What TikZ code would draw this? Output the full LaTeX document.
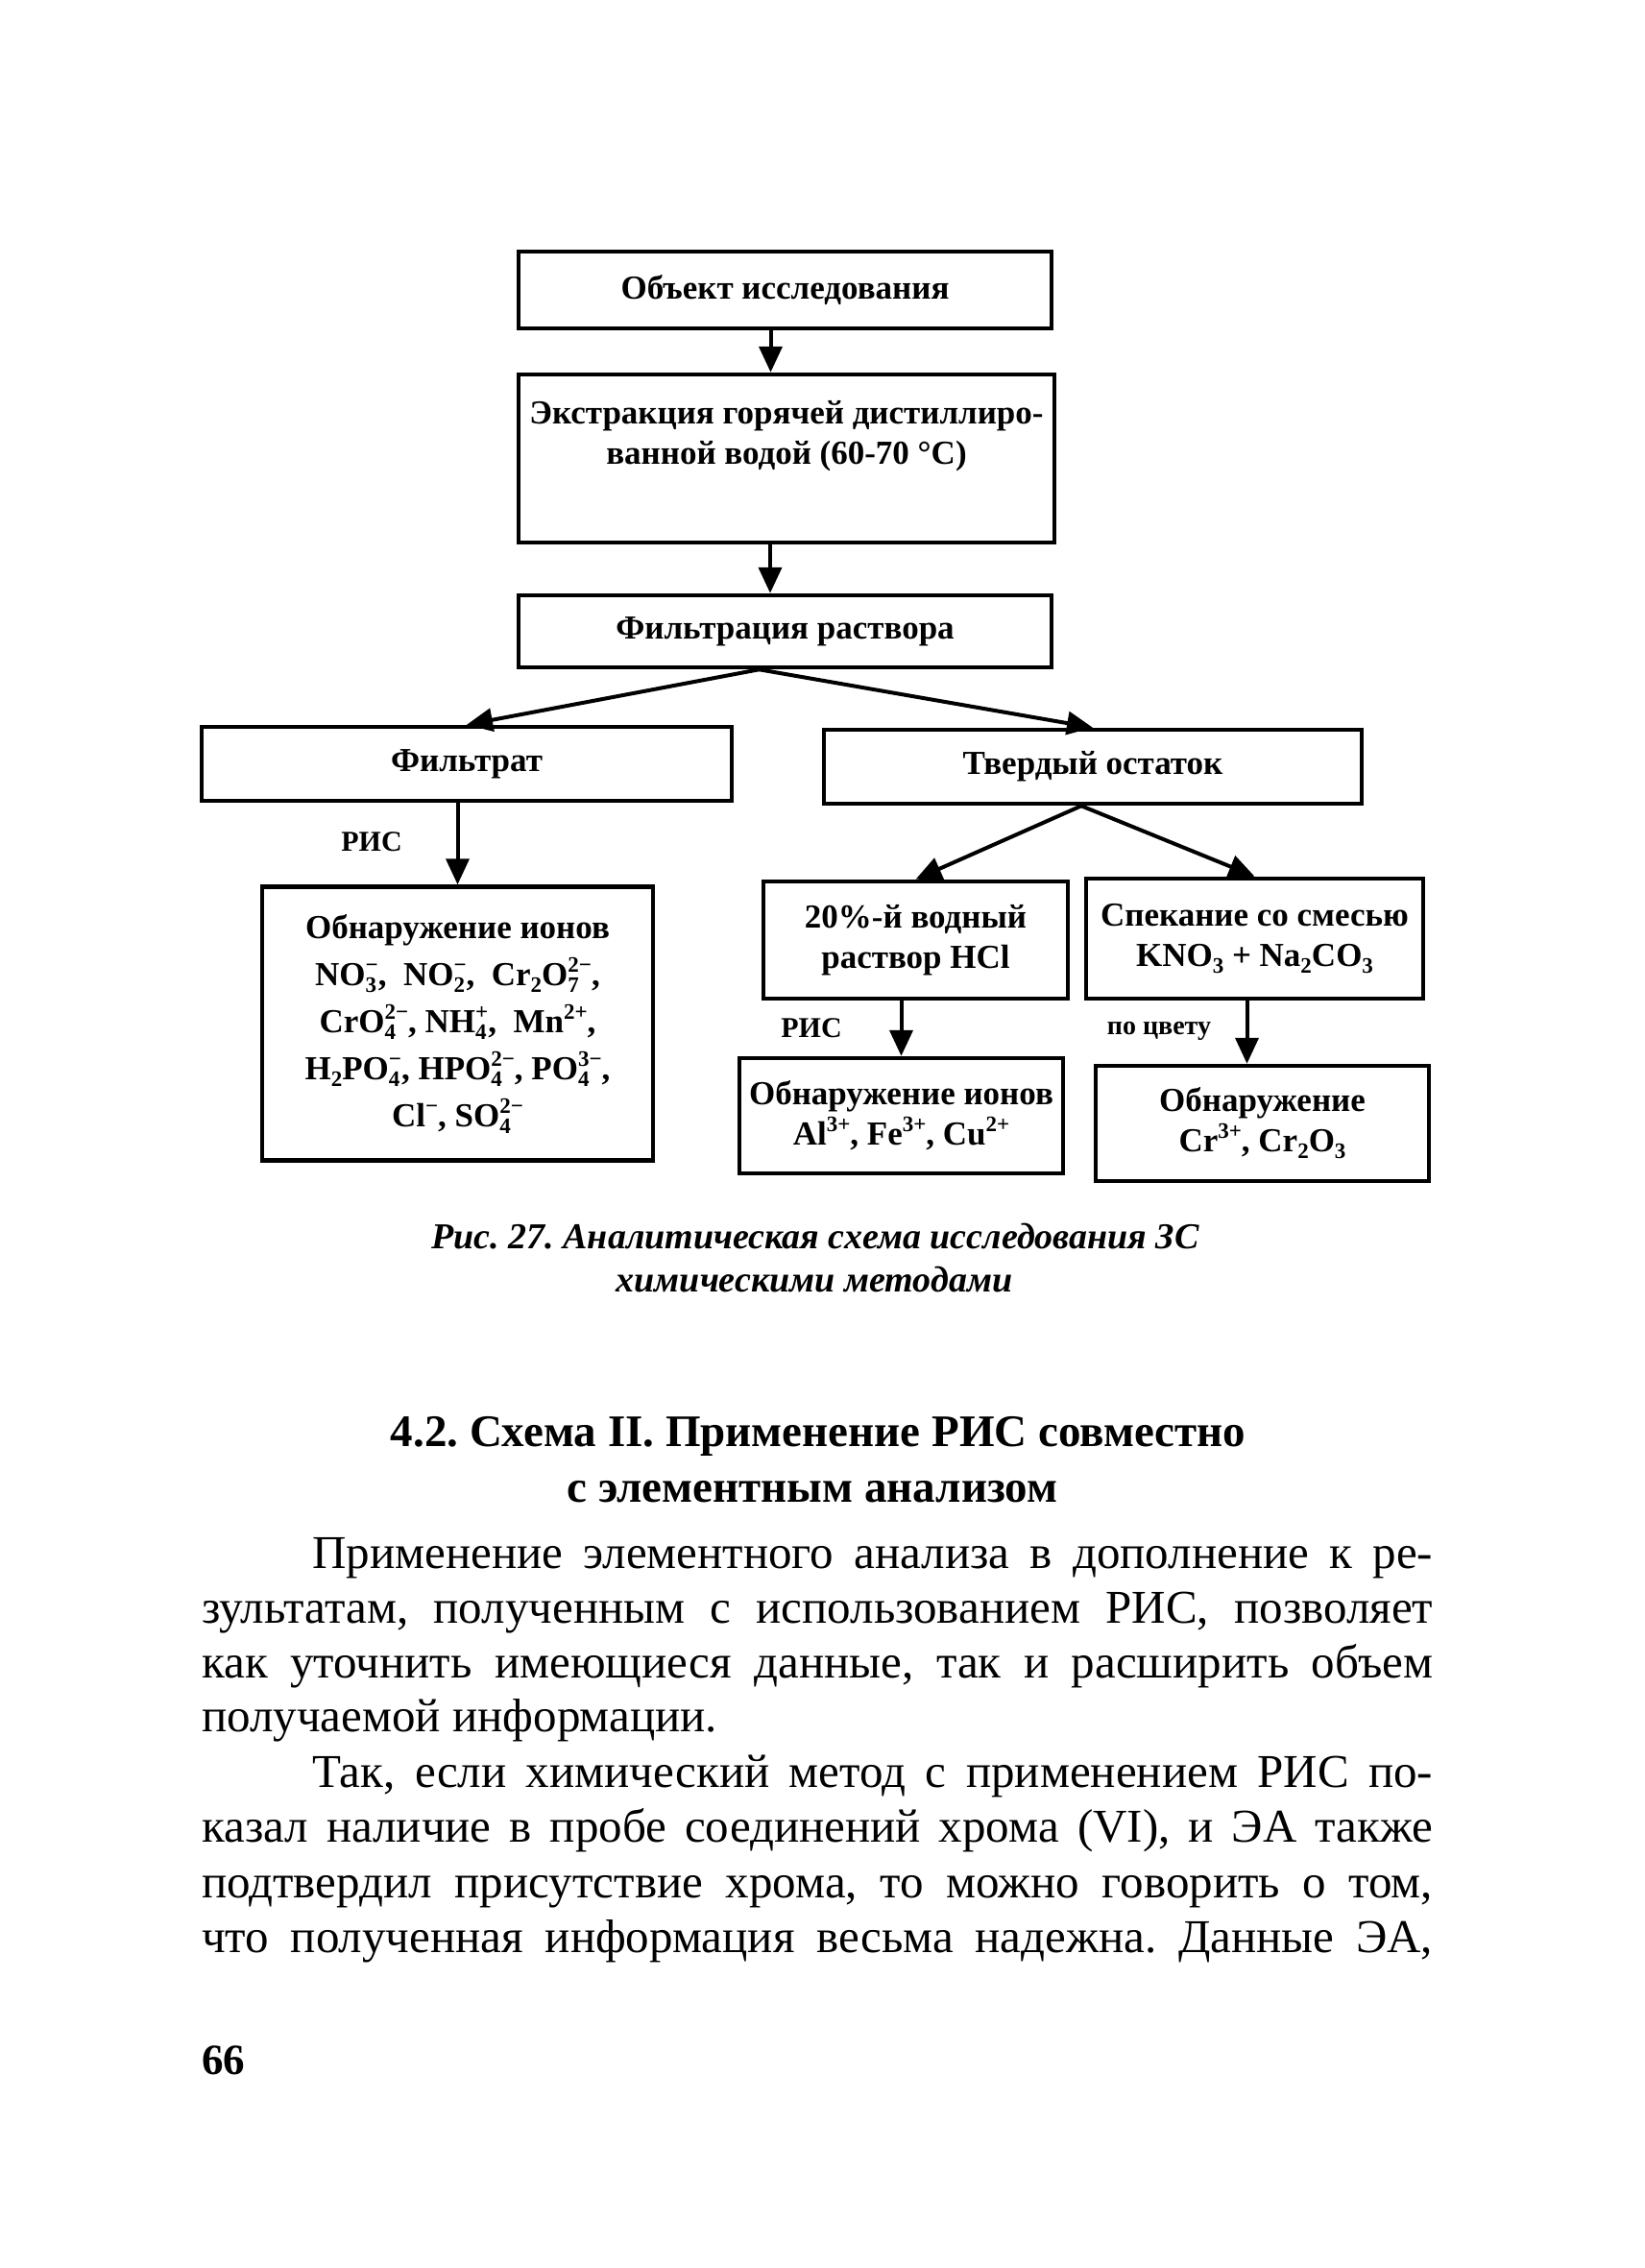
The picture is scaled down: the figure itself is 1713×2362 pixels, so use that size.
\documentclass[tikz,border=0pt]{standalone}
\usepackage{fontspec}
\setmainfont{Liberation Serif}
\usetikzlibrary{arrows.meta}
\frenchspacing
\newcommand\smfont{\fontsize{23}{24}\selectfont}
\newcommand\chsub[1]{\lower7pt\hbox{\smfont#1}}
\newcommand\chsup[1]{\raise14pt\hbox{\smfont#1}}
\newcommand\ssp[2]{{\setbox0=\hbox{\smfont#1}\setbox2=\hbox{\smfont#2}%
  \dimen0=\wd0 \ifdim\wd2>\dimen0 \dimen0=\wd2 \fi
  \hbox to \dimen0{\rlap{\lower7pt\box0}\raise14pt\box2\hss}}}
\tikzset{
  box/.style={draw, line width=4.5pt, inner sep=0pt, align=center,
    font=\bfseries\fontsize{35}{42}\selectfont},
  lbl/.style={inner sep=0pt, align=center, font=\bfseries\fontsize{35}{42}\selectfont},
  arr/.style={line width=4pt, -{Triangle[length=27pt,width=24pt]}},
  lab/.style={inner sep=0pt, font=\bfseries\fontsize{30}{36}\selectfont},
  capt/.style={inner sep=0pt, anchor=base, font=\bfseries\itshape\fontsize{38}{45}\selectfont},
  head/.style={inner sep=0pt, anchor=base, font=\bfseries\fontsize{47}{56}\selectfont},
  body/.style={inner sep=0pt, anchor=base west, font=\fontsize{49}{57}\selectfont}
}
\begin{document}
\begin{tikzpicture}[x=1pt,y=-1pt]
\fill[white] (0,0) rectangle (1713,2362);
\useasboundingbox (0,0) rectangle (1713,2362);

% boxes
\node[box, minimum width=555pt, minimum height=80pt] (b1) at (817.5,302) {Объект исследования};
\node[box, minimum width=558pt, minimum height=175pt,
  label={[lbl, anchor=north, yshift=-29pt]north:{Экстракция горячей дистиллиро-\\ванной водой (60-70 °C)}}] (b2) at (819,477.5) {};
\node[box, minimum width=555pt, minimum height=75pt] (b3) at (817.5,657.5) {Фильтрация раствора};
\node[box, minimum width=552pt, minimum height=77pt] (b4) at (486,795.5) {Фильтрат};
\node[box, minimum width=560pt, minimum height=77pt] (b5) at (1138,798.5) {Твердый остаток};
\node[box, minimum width=407pt, minimum height=285pt, font=\bfseries\fontsize{35}{49}\selectfont] (b6) at (476.5,1066) {%
  Обнаружение ионов\\
  NO\ssp{3}{−},\ \ NO\ssp{2}{−},\ \ Cr\chsub{2}O\ssp{7}{2−},\\
  CrO\ssp{4}{2−}, NH\ssp{4}{+},\ \ Mn\chsup{2+},\\
  H\chsub{2}PO\ssp{4}{−}, HPO\ssp{4}{2−}, PO\ssp{4}{3−},\\
  Cl\chsup{−}, SO\ssp{4}{2−}};
\node[box, minimum width=317pt, minimum height=122pt] (b7) at (953.5,979) {20\%-й водный\\раствор HCl};
\node[box, minimum width=351pt, minimum height=125pt] (b8) at (1306.5,977.5) {Спекание со смесью\\KNO\chsub{3} + Na\chsub{2}CO\chsub{3}};
\node[box, minimum width=337pt, minimum height=120pt] (b9) at (938.5,1162) {Обнаружение ионов\\Al\chsup{3+}, Fe\chsup{3+}, Cu\chsup{2+}};
\node[box, minimum width=347pt, minimum height=120pt] (b10) at (1314.5,1170) {Обнаружение\\Cr\chsup{3+}, Cr\chsub{2}O\chsub{3}};

% connectors
\coordinate (a1) at ([xshift=-15pt]b1.south);
\draw[arr] (a1) -- (a1 |- b2.north);
\coordinate (a2) at ([xshift=-17pt]b2.south);
\draw[arr] (a2) -- (a2 |- b3.north);
\coordinate (a3) at ([xshift=-27pt]b3.south);
\draw[arr] (a3) -- (b4.north);
\draw[arr] (a3) -- (b5.north);
\draw[arr] (b4.south -| b6.north) -- (b6.north);
\coordinate (a5) at ([xshift=-12pt]b5.south);
\draw[arr] (a5) -- (b7.north);
\draw[arr] (a5) -- (b8.north);
\draw[arr] (b7.south -| b9.north) -- (b9.north);
\coordinate (a8) at ([xshift=-8pt]b8.south);
\draw[arr] (a8) -- (a8 |- b10.north);

% connector labels
\node[lab] (l1) at (387,877) {РИС};
\node[lab] (l2) at (845,1071) {РИС};
\node[lab, font=\bfseries\fontsize{28}{34}\selectfont] (l3) at (1207,1074) {по цвету};

% caption
\node[capt] (c1) at (849,1300) {Рис. 27. Аналитическая схема исследования ЗС};
\node[capt] (c2) at (848,1345) {химическими методами};

% heading
\node[head] (h1) at (852,1506) {4.2. Схема II. Применение РИС совместно};
\node[head] (h2) at (846,1564) {с элементным анализом};

% body
\node[body] (p1) at (325,1633) {\makebox[1167pt][s]{Применение элементного анализа в дополнение к ре-}};
\node[body] (p2) at (210,1690) {\makebox[1282pt][s]{зультатам, полученным с использованием РИС, позволяет}};
\node[body] (p3) at (210,1747) {\makebox[1282pt][s]{как уточнить имеющиеся данные, так и расширить объем}};
\node[body] (p4) at (210,1803) {получаемой информации.};
\node[body] (p5) at (325,1861) {\makebox[1167pt][s]{Так, если химический метод с применением РИС по-}};
\node[body] (p6) at (210,1918) {\makebox[1282pt][s]{казал наличие в пробе соединений хрома (VI), и ЭА также}};
\node[body] (p7) at (210,1976) {\makebox[1282pt][s]{подтвердил присутствие хрома, то можно говорить о том,}};
\node[body] (p8) at (210,2033) {\makebox[1282pt][s]{что полученная информация весьма надежна. Данные ЭА,}};

% page number
\node[inner sep=0pt, anchor=base west, font=\bfseries\fontsize{45}{54}\selectfont] (pg) at (210,2160) {66};
\end{tikzpicture}
\end{document}
